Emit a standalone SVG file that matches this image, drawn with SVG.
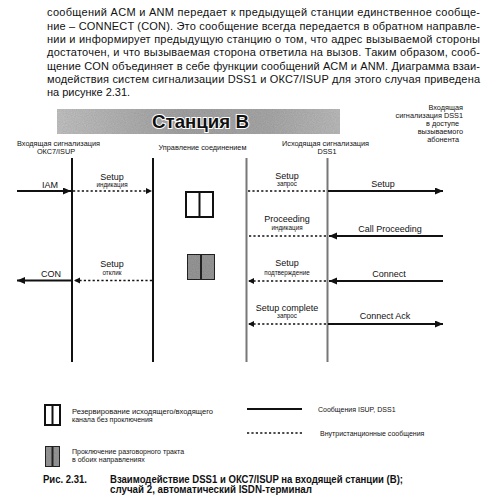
<svg xmlns="http://www.w3.org/2000/svg" width="488" height="497" viewBox="0 0 488 497">
<defs>
<style>
text{font-family:"Liberation Sans",Arial,sans-serif;fill:#111}
.para{font-size:11px}
.hdr{font-size:7.3px}
.msg{font-size:9px}
.sub{font-size:6.3px}
.leg{font-size:7px}
.cap{font-size:10px;font-weight:bold}
.life{stroke:#111;stroke-width:2}
.life2{stroke:#777;stroke-width:2}
.solid{stroke:#111;stroke-width:2;fill:none}
.dot{stroke:#111;stroke-width:1.6;stroke-dasharray:2.2 2.2;fill:none}
.box{fill:#fff;stroke:#111;stroke-width:2}
.gbox{fill:#999;stroke:#222;stroke-width:2}
</style>
<marker id="ah" markerUnits="userSpaceOnUse" markerWidth="10" markerHeight="8" refX="8" refY="3.5" orient="auto">
<path d="M0,0 L8,3.5 L0,7 z" fill="#111"/>
</marker>
<marker id="ahs" markerUnits="userSpaceOnUse" markerWidth="8" markerHeight="7" refX="6" refY="3" orient="auto">
<path d="M0,0 L6,3 L0,6 z" fill="#111"/>
</marker>
<linearGradient id="bg" x1="0" y1="0" x2="1" y2="0">
<stop offset="0" stop-color="#c4c4c4"/>
<stop offset="0.45" stop-color="#a4a4a4"/>
<stop offset="0.75" stop-color="#aaaaaa"/>
<stop offset="1" stop-color="#bdbdbd"/>
</linearGradient>
<filter id="noise" x="0" y="0" width="1" height="1">
<feTurbulence type="fractalNoise" baseFrequency="0.9" numOctaves="2" seed="3" result="n"/>
<feColorMatrix in="n" type="matrix" values="0 0 0 0 0.5  0 0 0 0 0.5  0 0 0 0 0.5  0 0 0 0.5 0" result="g"/>
<feComposite in="g" in2="SourceGraphic" operator="in" result="gn"/>
<feBlend in="SourceGraphic" in2="gn" mode="multiply"/>
</filter>
</defs>
<rect width="488" height="497" fill="#fff"/>

<g id="paragraph">
<text class="para" x="47" y="16" textLength="433" lengthAdjust="spacing">сообщений ACM и ANM передает к предыдущей станции единственное сообще-</text>
<text class="para" x="47" y="29.5" textLength="433" lengthAdjust="spacing">ние – CONNECT (CON). Это сообщение всегда передается в обратном направле-</text>
<text class="para" x="47" y="43" textLength="433" lengthAdjust="spacing">нии и информирует предыдущую станцию о том, что адрес вызываемой стороны</text>
<text class="para" x="47" y="56" textLength="433" lengthAdjust="spacing">достаточен, и что вызываемая сторона ответила на вызов. Таким образом, сооб-</text>
<text class="para" x="47" y="69.5" textLength="433" lengthAdjust="spacing">щение CON объединяет в себе функции сообщений ACM и ANM. Диаграмма взаи-</text>
<text class="para" x="47" y="83" textLength="433" lengthAdjust="spacing">модействия систем сигнализации DSS1 и ОКС7/ISUP для этого случая приведена</text>
<text class="para" x="47" y="96">на рисунке 2.31.</text>
</g>

<g id="banner">
<rect x="57" y="109" width="283" height="25" fill="url(#bg)" filter="url(#noise)"/>
<text x="152" y="128" font-size="18.5" font-weight="bold" stroke="#fff" stroke-width="2" paint-order="stroke" textLength="97" lengthAdjust="spacingAndGlyphs">Станция B</text>
</g>

<g id="headers">
<text class="hdr" x="58.5" y="146" text-anchor="middle">Входящая сигнализация</text>
<text class="hdr" x="56" y="153.5" text-anchor="middle">ОКС7/ISUP</text>
<text class="hdr" x="202.5" y="149.5" text-anchor="middle">Управление соединением</text>
<text class="hdr" x="325.5" y="146" text-anchor="middle">Исходящая сигнализация</text>
<text class="hdr" x="327" y="153.5" text-anchor="middle">DSS1</text>
<text class="hdr" x="463" y="110" text-anchor="end">Входящая</text>
<text class="hdr" x="463" y="118" text-anchor="end">сигнализация DSS1</text>
<text class="hdr" x="459" y="126" text-anchor="end">в доступе</text>
<text class="hdr" x="463" y="134" text-anchor="end">вызываемого</text>
<text class="hdr" x="459" y="142" text-anchor="end">абонента</text>
</g>

<g id="lifelines">
<line class="life" x1="72" y1="158" x2="72" y2="362"/>
<line class="life" x1="153" y1="158" x2="153" y2="362"/>
<line class="life2" x1="246.5" y1="158" x2="246.5" y2="362"/>
<line class="life2" x1="327.5" y1="158" x2="327.5" y2="362"/>
</g>

<g id="connectors">
<line class="solid" x1="17" y1="191" x2="71" y2="191" marker-end="url(#ah)"/>
<line class="dot" x1="73" y1="191" x2="152" y2="191" marker-end="url(#ahs)"/>
<line class="dot" x1="248" y1="191" x2="326" y2="191"/>
<line class="solid" x1="328" y1="191" x2="443" y2="191" marker-end="url(#ah)"/>

<line class="dot" x1="326" y1="236" x2="248" y2="236"/>
<line class="solid" x1="443" y1="236" x2="329" y2="236" marker-end="url(#ah)"/>

<line class="solid" x1="72" y1="280.5" x2="17" y2="280.5" marker-end="url(#ah)"/>
<line class="dot" x1="152" y1="280.5" x2="74" y2="280.5" marker-end="url(#ahs)"/>
<line class="dot" x1="326" y1="281" x2="248" y2="281" marker-end="url(#ahs)"/>
<line class="solid" x1="443" y1="281" x2="329" y2="281" marker-end="url(#ah)"/>

<line class="dot" x1="326" y1="324" x2="248" y2="324" marker-end="url(#ahs)"/>
<line class="solid" x1="328" y1="324" x2="443" y2="324" marker-end="url(#ah)"/>
</g>

<g id="labels">
<text class="msg" x="50" y="187.5" text-anchor="middle">IAM</text>
<text class="msg" x="112" y="179.5" text-anchor="middle">Setup</text>
<text class="sub" x="112" y="186.5" text-anchor="middle">индикация</text>
<text class="msg" x="287" y="179" text-anchor="middle">Setup</text>
<text class="sub" x="287" y="186" text-anchor="middle">запрос</text>
<text class="msg" x="383" y="187" text-anchor="middle">Setup</text>

<text class="msg" x="287" y="222" text-anchor="middle">Proceeding</text>
<text class="sub" x="287" y="230" text-anchor="middle">индикация</text>
<text class="msg" x="390" y="232" text-anchor="middle">Call Proceeding</text>

<text class="msg" x="51" y="276.5" text-anchor="middle">CON</text>
<text class="msg" x="112" y="267" text-anchor="middle">Setup</text>
<text class="sub" x="112" y="274.5" text-anchor="middle">отклик</text>
<text class="msg" x="287" y="266" text-anchor="middle">Setup</text>
<text class="sub" x="287" y="274.5" text-anchor="middle">подтверждение</text>
<text class="msg" x="389" y="277" text-anchor="middle">Connect</text>

<text class="msg" x="287" y="311" text-anchor="middle">Setup complete</text>
<text class="sub" x="287" y="318" text-anchor="middle">запрос</text>
<text class="msg" x="385" y="319" text-anchor="middle">Connect Ack</text>
</g>

<g id="reserve-box">
<rect class="box" x="186" y="192" width="27" height="25"/>
<line x1="199.5" y1="192" x2="199.5" y2="217" stroke="#111" stroke-width="2"/>
</g>
<g id="through-box">
<rect class="gbox" x="187" y="254" width="28" height="26" filter="url(#noise)"/>
<line x1="201" y1="254" x2="201" y2="280" stroke="#222" stroke-width="2"/>
</g>

<g id="legend">
<rect class="box" x="45" y="405" width="15" height="20"/>
<line x1="52.5" y1="405" x2="52.5" y2="425" stroke="#111" stroke-width="2"/>
<text class="leg" x="72" y="414" textLength="141" lengthAdjust="spacingAndGlyphs">Резервирование исходящего/входящего</text>
<text class="leg" x="72" y="421.5">канала без проключения</text>
<rect class="gbox" x="45" y="446" width="15" height="21" filter="url(#noise)"/>
<line x1="52.5" y1="446" x2="52.5" y2="467" stroke="#222" stroke-width="2"/>
<text class="leg" x="72" y="454">Проключение разговорного тракта</text>
<text class="leg" x="72" y="461.5">в обоих направлениях</text>
<line class="solid" x1="247" y1="409" x2="302" y2="409"/>
<text class="leg" x="318" y="412">Сообщения ISUP, DSS1</text>
<line class="dot" x1="247" y1="433" x2="302" y2="433"/>
<text class="leg" x="320" y="436">Внутристанционные сообщения</text>
</g>

<g id="caption">
<text class="cap" x="43" y="483" textLength="44" lengthAdjust="spacingAndGlyphs">Рис. 2.31.</text>
<text class="cap" x="110" y="483" textLength="293" lengthAdjust="spacingAndGlyphs">Взаимодействие DSS1 и ОКС7/ISUP на входящей станции (B);</text>
<text class="cap" x="110" y="493" textLength="202" lengthAdjust="spacingAndGlyphs">случай 2, автоматический ISDN-терминал</text>
</g>
</svg>
